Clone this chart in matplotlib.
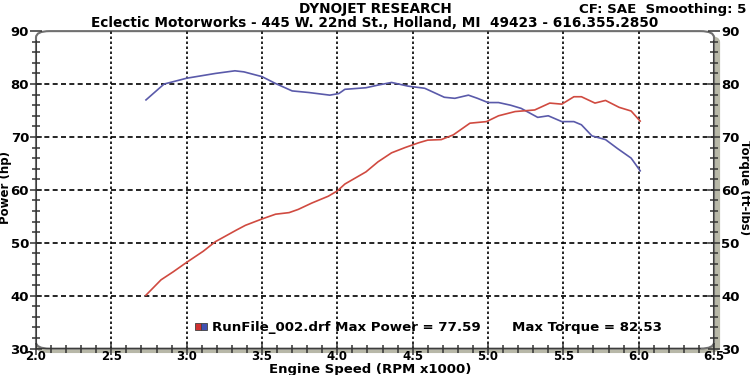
import numpy as np
import matplotlib
matplotlib.use('Agg')
import matplotlib.pyplot as plt
from matplotlib.patches import FancyBboxPatch, Rectangle
from matplotlib.ticker import MultipleLocator

# Engine speed (RPM x1000) and curves
rpm_power = [2.73, 2.83, 2.91, 3.00, 3.11, 3.19, 3.33, 3.39, 3.50, 3.59, 3.68, 3.74,
             3.83, 3.94, 4.00, 4.05, 4.19, 4.27, 4.36, 4.45, 4.54, 4.60, 4.69, 4.77,
             4.88, 4.99, 5.07, 5.18, 5.31, 5.41, 5.49, 5.57, 5.62, 5.71, 5.78, 5.87,
             5.95, 6.01]
power_hp = [40.1, 43.0, 44.5, 46.3, 48.4, 50.2, 52.4, 53.3, 54.5, 55.4, 55.7, 56.3,
            57.5, 58.8, 59.8, 61.1, 63.4, 65.3, 67.0, 68.0, 68.9, 69.4, 69.5, 70.4,
            72.6, 72.9, 74.0, 74.8, 75.1, 76.4, 76.2, 77.6, 77.6, 76.4, 76.9, 75.6,
            74.9, 73.0]

rpm_torque = [2.73, 2.85, 3.00, 3.19, 3.32, 3.38, 3.50, 3.59, 3.70, 3.81, 3.95, 4.01,
              4.05, 4.19, 4.27, 4.36, 4.47, 4.58, 4.71, 4.78, 4.87, 4.93, 5.00, 5.07,
              5.15, 5.22, 5.33, 5.40, 5.49, 5.57, 5.62, 5.69, 5.78, 5.86, 5.95, 6.01]
torque_ftlb = [77.0, 80.0, 81.1, 82.0, 82.5, 82.3, 81.4, 80.1, 78.7, 78.4, 77.9, 78.2,
               79.0, 79.3, 79.8, 80.3, 79.6, 79.2, 77.5, 77.3, 77.9, 77.3, 76.5, 76.5,
               76.0, 75.4, 73.7, 74.0, 72.9, 72.9, 72.3, 70.2, 69.5, 67.8, 66.0, 63.6]

max_power = 77.59
max_torque = 82.53

BOLD = dict(fontfamily='DejaVu Sans', fontweight='bold')

fig = plt.figure(figsize=(7.5, 3.75), dpi=100)
fig.patch.set_facecolor('white')
ax = fig.add_axes([0.048, 0.0704, 0.904, 0.8466])
ax.set_xlim(2.0, 6.5)
ax.set_ylim(30, 90)

# frame: grey shadow + rounded grey border
shadow = FancyBboxPatch((0.0, -0.014), 1.009, 1.0, boxstyle='round,pad=0,rounding_size=0.02',
                        transform=ax.transAxes, facecolor='#b8b8a8', edgecolor='none',
                        clip_on=False, zorder=0)
ax.add_patch(shadow)
frame = FancyBboxPatch((0, 0), 1, 1, boxstyle='round,pad=0,rounding_size=0.02',
                       transform=ax.transAxes, facecolor='white', edgecolor='#707070',
                       linewidth=1.5, clip_on=False, zorder=0.5)
ax.add_patch(frame)
ax.set_facecolor('none')
for s in ax.spines.values():
    s.set_visible(False)
ax.axvline(2.0, ymax=0.97, color='#333333', lw=1.2, zorder=3)
ax.axhline(30, xmax=0.98, color='#333333', lw=1.2, zorder=3)
ax.axvline(6.5, ymax=0.97, color='#333333', lw=1.2, zorder=3)

# grid
for xv in np.arange(2.5, 6.5, 0.5):
    ax.axvline(xv, color='black', lw=1.2, ls=(0, (1.5, 1.5)), zorder=1)
for yv in range(40, 90, 10):
    ax.axhline(yv, color='black', lw=1.2, ls=(0, (3, 2)), zorder=1)

ax.plot(rpm_torque, torque_ftlb, color='#5a5aaa', lw=1.2, zorder=4)
ax.plot(rpm_power, power_hp, color='#d04a40', lw=1.2, zorder=4)

# ticks
ax.xaxis.set_major_locator(MultipleLocator(0.5))
ax.xaxis.set_minor_locator(MultipleLocator(0.1))
ax.yaxis.set_major_locator(MultipleLocator(10))
ax.yaxis.set_minor_locator(MultipleLocator(2))
ax.tick_params(which='both', direction='inout', color='#333333', width=1.1)
ax.tick_params(which='major', length=8, labelsize=9.5)
ax.tick_params(which='minor', length=6)
ax.tick_params(axis='x', pad=-3, labelsize=8.5)
ax.tick_params(axis='y', which='both', left=True, right=True, labelleft=True, labelright=True, pad=1)
ax.set_xticks(np.arange(2.0, 6.51, 0.5))
ax.set_xticklabels([f'{v:.1f}' for v in np.arange(2.0, 6.51, 0.5)])
for lbl in ax.get_xticklabels():
    lbl.set_fontweight('bold')
for t in ax.yaxis.get_major_ticks():
    t.label1.set_fontweight('bold')
    t.label2.set_fontweight('bold')
    t.label2.set_fontsize(9.5)

fig.text(0.493, 0.015, 'Engine Speed (RPM x1000)', ha='center', va='center', fontsize=9.5, **BOLD)
fig.text(-0.002, 0.5, 'Power (hp)', rotation=90, va='center', ha='left', fontsize=8.5, **BOLD)
fig.text(1.002, 0.5, 'Torque (ft-lbs)', rotation=270, va='center', ha='right', fontsize=8.5, **BOLD)

# header
fig.text(0.501, 0.976, 'DYNOJET RESEARCH', ha='center', va='center', fontsize=9.8, **BOLD)
fig.text(0.772, 0.976, 'CF: SAE  Smoothing: 5', ha='left', va='center', fontsize=9.6, **BOLD)
fig.text(0.5, 0.938, 'Eclectic Motorworks - 445 W. 22nd St., Holland, MI  49423 - 616.355.2850',
         ha='center', va='center', fontsize=9.8, **BOLD)

# legend line
ax.add_patch(Rectangle((0.2345, 0.058), 0.009, 0.022, transform=ax.transAxes,
                       facecolor='#d03030', edgecolor='#404040', lw=0.6, zorder=5))
ax.add_patch(Rectangle((0.2435, 0.058), 0.009, 0.022, transform=ax.transAxes,
                       facecolor='#4050b0', edgecolor='#404040', lw=0.6, zorder=5))
ax.text(0.2595, 0.068, f'RunFile_002.drf Max Power = {max_power:.2f}', transform=ax.transAxes,
        ha='left', va='center', fontsize=9.6, zorder=5, **BOLD)
ax.text(0.702, 0.068, f'Max Torque = {max_torque:.2f}', transform=ax.transAxes,
        ha='left', va='center', fontsize=9.6, zorder=5, **BOLD)

fig.savefig('out.png', dpi=100)
